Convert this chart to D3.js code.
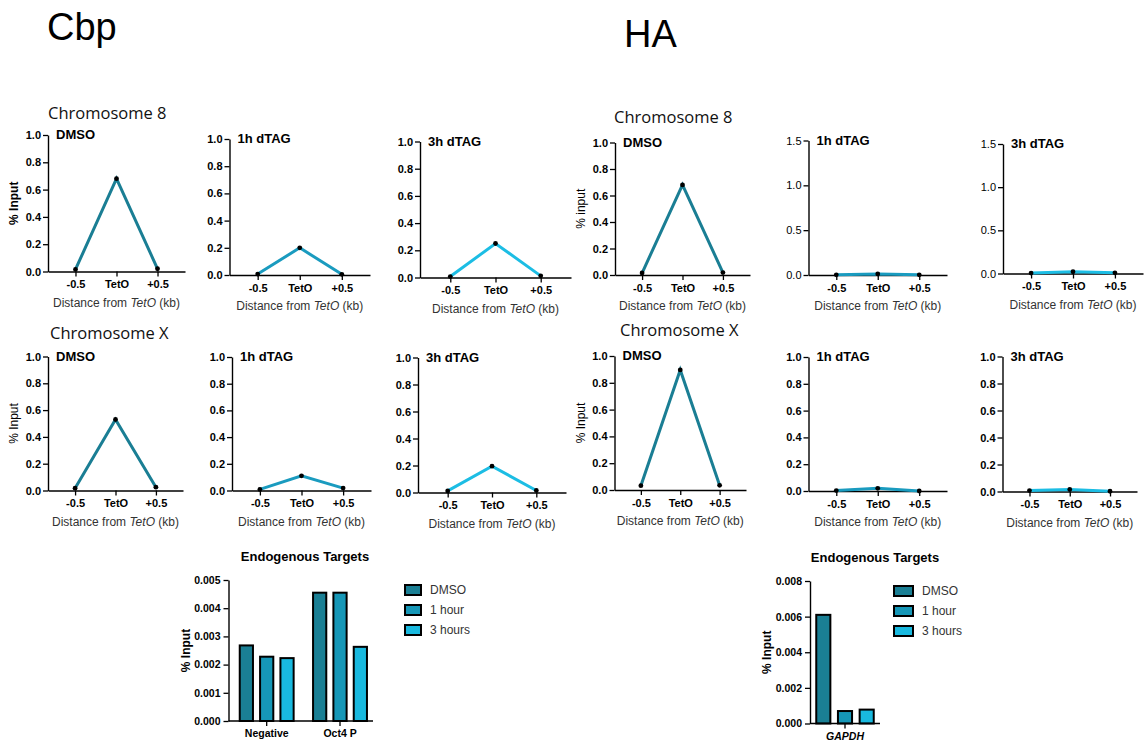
<!DOCTYPE html>
<html>
<head>
<meta charset="utf-8">
<script src="https://cdn.jsdelivr.net/npm/d3@7"></script>
<style>
  html, body { margin: 0; padding: 0; background: #fff; }
  svg { display: block; }
  .tick text { font-family: "Liberation Sans", Arial, sans-serif; }
</style>
</head>
<body>
<svg id="fig" width="1148" height="744"></svg>
<script>
// ---- data ----
const positions = ["-0.5", "TetO", "+0.5"];

// Chromosome 8, Cbp ChIP (% input at -0.5 kb, TetO, +0.5 kb)
const cbpChr8Dmso   = [0.015, 0.68, 0.02];
const cbpChr8Dtag1h = [0.007, 0.20, 0.005];
const cbpChr8Dtag3h = [0.007, 0.25, 0.012];
// Chromosome 8, HA ChIP
const haChr8Dmso   = [0.015, 0.68, 0.018];
const haChr8Dtag1h = [0.002, 0.012, 0.002];
const haChr8Dtag3h = [0.005, 0.02, 0.008];
// Chromosome X, Cbp ChIP
const cbpChrXDmso   = [0.017, 0.53, 0.025];
const cbpChrXDtag1h = [0.008, 0.11, 0.018];
const cbpChrXDtag3h = [0.012, 0.195, 0.015];
// Chromosome X, HA ChIP
const haChrXDmso   = [0.032, 0.896, 0.035];
const haChrXDtag1h = [0.003, 0.02, 0.0];
const haChrXDtag3h = [0.007, 0.015, 0.002];

const ticksUnit = [0, 0.2, 0.4, 0.6, 0.8, 1.0];
const ticksWide = [0, 0.5, 1.0, 1.5];

// Endogenous targets
const barSeries = ["DMSO", "1 hour", "3 hours"];
const cbpTargets = ["Negative", "Oct4 P"];
const cbpTargetValues = [[0.00268, 0.00228, 0.00223], [0.00455, 0.00455, 0.00263]];
const cbpBarTicks = [0, 0.001, 0.002, 0.003, 0.004, 0.005];
const haTargets = ["GAPDH"];
const haTargetValues = [[0.0061, 0.0007, 0.00078]];
const haBarTicks = [0, 0.002, 0.004, 0.006, 0.008];

// ---- styling ----
const colDmso = "#1a7e94";
const col1h = "#1a9bbf";
const col3h = "#1cbde4";
const barColors = ["#1a7f94", "#1697b7", "#19b9df"];
const sansUI = "'Open Sans', 'Noto Sans', sans-serif";
const arial = "'Liberation Sans', Arial, sans-serif";

const svg = d3.select("#fig");

// ---- headings ----
svg.append("text").attr("x", 47).attr("y", 40).text("Cbp")
  .attr("font-family", arial).attr("font-size", 38).attr("fill", "#000");
svg.append("text").attr("x", 624).attr("y", 47).text("HA")
  .attr("font-family", arial).attr("font-size", 38).attr("fill", "#000");

const subTitles = [
  { t: "Chromosome 8", x: 48, y: 119 },
  { t: "Chromosome 8", x: 614, y: 123 },
  { t: "Chromosome X", x: 50, y: 339 },
  { t: "Chromosome X", x: 620, y: 336 }
];
subTitles.forEach(s => {
  svg.append("text").attr("x", s.x).attr("y", s.y).text(s.t)
    .attr("font-family", sansUI).attr("font-size", 16.5).attr("fill", "#111");
});

// ---- line panels ----
const panels = [
  { vals: cbpChr8Dmso,   title: "DMSO",    col: colDmso, x: 48,    top: 135,   bot: 271.5, right: 185,  ticks: ticksUnit, yLab: "% Input", yBold: true, tickBold: true },
  { vals: cbpChr8Dtag1h, title: "1h dTAG", col: col1h,   x: 229.5, top: 139,   bot: 275,   right: 370,  ticks: ticksUnit, tickBold: true },
  { vals: cbpChr8Dtag3h, title: "3h dTAG", col: col3h,   x: 420,   top: 141.5, bot: 277.5, right: 571,  ticks: ticksUnit, tickBold: true },
  { vals: haChr8Dmso,    title: "DMSO",    col: colDmso, x: 615,   top: 142.5, bot: 275,   right: 750,  ticks: ticksUnit, yLab: "% input", yBold: false, tickBold: true },
  { vals: haChr8Dtag1h,  title: "1h dTAG", col: col1h,   x: 808.5, top: 140.5, bot: 275,   right: 947,  ticks: ticksWide, tickBold: false },
  { vals: haChr8Dtag3h,  title: "3h dTAG", col: col3h,   x: 1003,  top: 144,   bot: 273.5, right: 1143, ticks: ticksWide, tickBold: false },
  { vals: cbpChrXDmso,   title: "DMSO",    col: colDmso, x: 48,    top: 356.5, bot: 490.5, right: 183,  ticks: ticksUnit, yLab: "% Input", yBold: false, tickBold: true },
  { vals: cbpChrXDtag1h, title: "1h dTAG", col: col1h,   x: 232,   top: 357,   bot: 490.5, right: 371,  ticks: ticksUnit, tickBold: true },
  { vals: cbpChrXDtag3h, title: "3h dTAG", col: col3h,   x: 418,   top: 357.5, bot: 492.5, right: 566,  ticks: ticksUnit, tickBold: true },
  { vals: haChrXDmso,    title: "DMSO",    col: colDmso, x: 614.5, top: 356,   bot: 490,   right: 746,  ticks: ticksUnit, yLab: "% Input", yBold: false, tickBold: true },
  { vals: haChrXDtag1h,  title: "1h dTAG", col: col1h,   x: 808.5, top: 357,   bot: 491,   right: 947,  ticks: ticksUnit, tickBold: true },
  { vals: haChrXDtag3h,  title: "3h dTAG", col: col3h,   x: 1002.5,top: 356.5, bot: 491.5, right: 1137, ticks: ticksUnit, tickBold: true }
];

function styleAxis(g, bold, size) {
  g.selectAll(".domain").attr("stroke", "#000").attr("stroke-width", 1.4);
  g.selectAll(".tick line").attr("stroke", "#000").attr("stroke-width", 1.3);
  g.selectAll(".tick text").attr("fill", "#000")
    .attr("font-size", size).attr("font-weight", bold ? "bold" : "normal");
}

panels.forEach(p => {
  const g = svg.append("g");
  const yMax = p.ticks[p.ticks.length - 1];
  const y = d3.scaleLinear().domain([0, yMax]).range([p.bot, p.top]);
  const x = d3.scalePoint().domain(positions).range([p.x, p.right]).padding(0.67);

  const yAxis = g.append("g").attr("transform", `translate(${p.x},0)`)
    .call(d3.axisLeft(y).tickValues(p.ticks).tickSize(5).tickSizeOuter(0).tickPadding(2)
      .tickFormat(d3.format(".1f")));
  styleAxis(yAxis, p.tickBold, 11);

  const xAxis = g.append("g").attr("transform", `translate(0,${p.bot})`)
    .call(d3.axisBottom(x).tickSize(5).tickSizeOuter(0).tickPadding(4));
  styleAxis(xAxis, true, 11);

  // panel title
  g.append("text").attr("x", p.x + 8).attr("y", p.top + 4).text(p.title)
    .attr("font-family", arial).attr("font-weight", "bold").attr("font-size", 13).attr("fill", "#000");

  // x-axis title with italic TetO
  const xt = g.append("text")
    .attr("x", (p.x + p.right) / 2).attr("y", p.bot + 35)
    .attr("text-anchor", "middle").attr("font-family", arial).attr("font-size", 12).attr("fill", "#333");
  xt.append("tspan").text("Distance from ");
  xt.append("tspan").attr("font-style", "italic").text("TetO");
  xt.append("tspan").text(" (kb)");

  if (p.yLab) {
    g.append("text")
      .attr("transform", `translate(${p.x - 30},${(p.top + p.bot) / 2}) rotate(-90)`)
      .attr("text-anchor", "middle").attr("font-family", arial)
      .attr("font-weight", p.yBold ? "bold" : "normal").attr("font-size", 12).attr("fill", "#000")
      .text(p.yLab);
  }

  const line = d3.line().x((d, i) => x(positions[i])).y(d => y(d));
  g.append("path").datum(p.vals).attr("d", line)
    .attr("fill", "none").attr("stroke", p.col).attr("stroke-width", 3);
  g.selectAll("circle.pt").data(p.vals).join("circle")
    .attr("cx", (d, i) => x(positions[i])).attr("cy", d => y(d)).attr("r", 2.4).attr("fill", "#000");
});

// ---- bar panels ----
const barPanels = [
  { cats: cbpTargets, vals: cbpTargetValues, ticks: cbpBarTicks, fmt: ".3f", x: 228.5, right: 373, bandStart: 233.7, top: 580, bot: 721,
    inner: 30, titleX: 305, legX: 405, legW: 16, legY: 590, italicCats: false },
  { cats: haTargets, vals: haTargetValues, ticks: haBarTicks, fmt: ".3f", x: 810, right: 880, bandStart: 810, top: 581, bot: 723.5,
    inner: 32, titleX: 875, legX: 894, legW: 19, legY: 591, italicCats: true }
];

barPanels.forEach(bp => {
  const g = svg.append("g");
  const yMax = bp.ticks[bp.ticks.length - 1];
  const y = d3.scaleLinear().domain([0, yMax]).range([bp.bot, bp.top]);
  const x0 = d3.scaleBand().domain(bp.cats).range([bp.bandStart, bp.right])
    .paddingInner(0.1).paddingOuter(bp.bandStart === bp.x ? 0.05 : 0);
  const x1 = d3.scaleBand().domain(barSeries).range([-bp.inner, bp.inner]).paddingInner(0.35).paddingOuter(0.15);

  bp.cats.forEach((c, ci) => {
    const cx = x0(c) + x0.bandwidth() / 2;
    g.selectAll(null).data(bp.vals[ci]).join("rect")
      .attr("x", (d, i) => cx + x1(barSeries[i]))
      .attr("y", d => y(d))
      .attr("width", x1.bandwidth())
      .attr("height", d => bp.bot - y(d))
      .attr("fill", (d, i) => barColors[i])
      .attr("stroke", "#000").attr("stroke-width", 2);
  });

  const yAxis = g.append("g").attr("transform", `translate(${bp.x},0)`)
    .call(d3.axisLeft(y).tickValues(bp.ticks).tickSize(5).tickSizeOuter(0).tickPadding(3)
      .tickFormat(d3.format(bp.fmt)));
  styleAxis(yAxis, true, 10.5);

  const xAxis = g.append("g").attr("transform", `translate(0,${bp.bot})`)
    .call(d3.axisBottom(x0).tickSize(5).tickSizeOuter(0).tickPadding(4));
  // baseline runs from the y-axis to the right edge of the plot
  xAxis.select(".domain").attr("d", `M${bp.x},0H${bp.right}`);
  styleAxis(xAxis, true, 10.5);
  if (bp.italicCats) xAxis.selectAll(".tick text").attr("font-style", "italic");

  g.append("text").attr("x", bp.titleX).attr("y", bp.top - 19).attr("text-anchor", "middle")
    .attr("font-family", arial).attr("font-weight", "bold").attr("font-size", 13).attr("fill", "#000")
    .text("Endogenous Targets");

  g.append("text")
    .attr("transform", `translate(${bp.x - 39},${(bp.top + bp.bot) / 2}) rotate(-90)`)
    .attr("text-anchor", "middle").attr("font-family", arial)
    .attr("font-weight", "bold").attr("font-size", 12).attr("fill", "#000")
    .text("% Input");

  // legend
  barSeries.forEach((s, i) => {
    const ly = bp.legY + i * 20;
    g.append("rect").attr("x", bp.legX).attr("y", ly - 5).attr("width", bp.legW).attr("height", 10)
      .attr("fill", barColors[i]).attr("stroke", "#000").attr("stroke-width", 2);
    g.append("text").attr("x", bp.legX + bp.legW + 9).attr("y", ly + 4)
      .attr("font-family", arial).attr("font-size", 12).attr("fill", "#333").text(s);
  });
});
</script>
</body>
</html>
